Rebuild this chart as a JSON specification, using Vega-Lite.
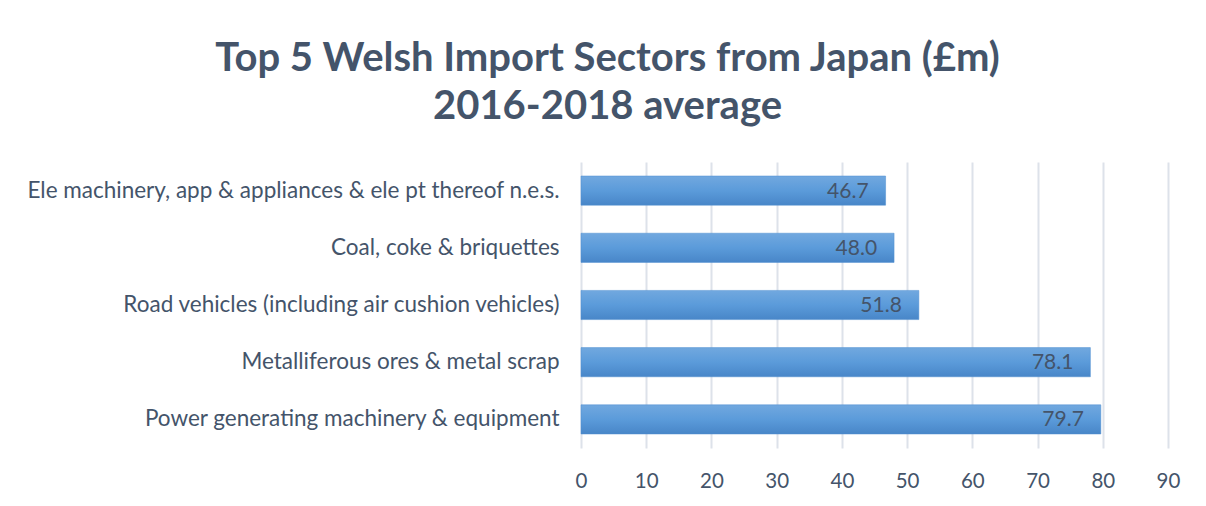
{
  "$schema": "https://vega.github.io/schema/vega-lite/v6.json",
  "autosize": {"type": "none"},
  "width": 587,
  "height": 286,
  "padding": {"left": 581, "top": 162, "right": 38, "bottom": 58},
  "background": "white",
  "config": {"view": {"stroke": null}},
  "title": {
    "text": ["Top 5 Welsh Import Sectors from Japan (£m)", "2016-2018 average"],
    "font": "Lato",
    "fontSize": 40,
    "fontWeight": "bold",
    "color": "#44546A",
    "anchor": "middle",
    "frame": "group",
    "dx": -267,
    "lineHeight": 48,
    "offset": 35
  },
  "data": {
    "values": [
      {"sector": "Ele machinery, app & appliances & ele pt thereof n.e.s.", "value": 46.7},
      {"sector": "Coal, coke & briquettes", "value": 48.0},
      {"sector": "Road vehicles (including air cushion vehicles)", "value": 51.8},
      {"sector": "Metalliferous ores & metal scrap", "value": 78.1},
      {"sector": "Power generating machinery & equipment", "value": 79.7}
    ]
  },
  "encoding": {
    "y": {
      "field": "sector",
      "type": "nominal",
      "sort": null,
      "title": null,
      "scale": {"paddingInner": 0.49, "paddingOuter": 0.245},
      "axis": {
        "ticks": false,
        "domain": false,
        "labelFont": "Lato",
        "labelFontSize": 22.5,
        "labelColor": "#44546A",
        "labelPadding": 22,
        "labelLimit": 700
      }
    },
    "x": {
      "field": "value",
      "type": "quantitative",
      "title": null,
      "scale": {"domain": [0, 90], "nice": false},
      "axis": {
        "values": [0, 10, 20, 30, 40, 50, 60, 70, 80, 90],
        "ticks": false,
        "domain": false,
        "grid": true,
        "gridColor": "#DDE2EA",
        "gridWidth": 2,
        "labelFlush": false,
        "labelFont": "Lato",
        "labelFontSize": 20.5,
        "labelColor": "#44546A",
        "labelPadding": 23
      }
    }
  },
  "layer": [
    {
      "mark": {
        "type": "bar",
        "color": {
          "gradient": "linear",
          "x1": 0, "y1": 0, "x2": 0, "y2": 1,
          "stops": [
            {"offset": 0, "color": "#71A8DF"},
            {"offset": 0.5, "color": "#5B9BDA"},
            {"offset": 1, "color": "#4886C8"}
          ]
        },
        "stroke": "#4F8FD0",
        "strokeWidth": 0.5
      }
    },
    {
      "mark": {
        "type": "text",
        "align": "right",
        "baseline": "middle",
        "dx": -17,
        "dy": 1,
        "font": "Lato",
        "fontSize": 21,
        "color": "#44546A"
      },
      "encoding": {
        "text": {"field": "value", "type": "quantitative", "format": ".1f"}
      }
    }
  ]
}
